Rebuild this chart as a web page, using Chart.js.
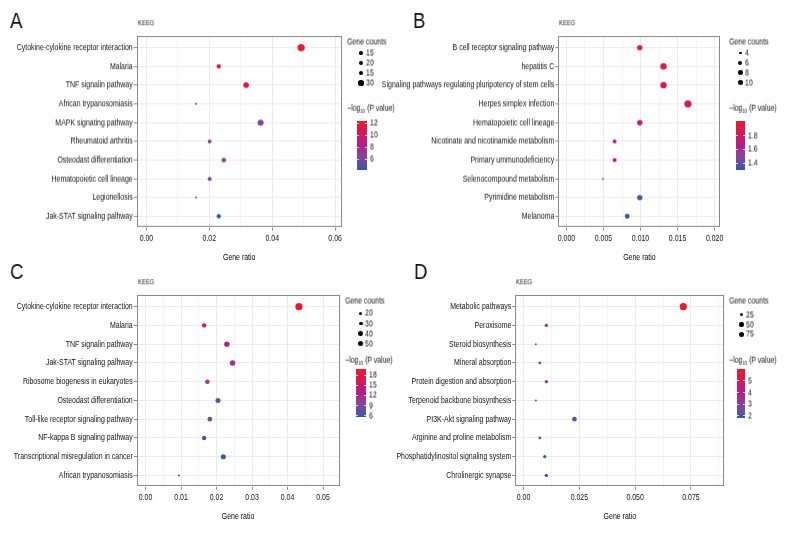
<!DOCTYPE html>
<html>
<head>
<meta charset="utf-8">
<script src="https://cdn.jsdelivr.net/npm/chart.js@4.4.1/dist/chart.umd.min.js"></script>
<style>
body { margin: 0; background: #fff; }
#fig { position: relative; width: 792px; height: 540px; overflow: hidden; font-family: 'Liberation Sans', Arial, sans-serif; color: #111; }
#fig canvas, #fig .t, #fig .dot, #fig .bar { position: absolute; }
.t { white-space: nowrap; line-height: 1; transform-origin: left center; -webkit-font-smoothing: antialiased; will-change: transform; }
.dot { border-radius: 50%; background: #000; }
</style>
</head>
<body>
<div id="fig"></div>
<script>
// ---- data ----
var termsA = ['Cytokine-cylokine receptor interaction', 'Malaria', 'TNF signalin pathway', 'African trypanosomiasis', 'MAPK signating pathway', 'Rheumatoid arthritis', 'Osteodast differentiation', 'Hematopoietic cell lineage', 'Legionellosis', 'Jak-STAT signaling palhway']
var ratioA = [0.0492, 0.0230, 0.0317, 0.0158, 0.0363, 0.0201, 0.0246, 0.0201, 0.0158, 0.0230]
var countA = [31, 14, 20, 10, 23, 13, 15, 13, 10, 14]
var logpA = [12.4, 11.6, 11.0, 9.2, 6.5, 6.3, 6.2, 6.1, 5.6, 4.2]
var xTicksA = [0, 0.02, 0.04, 0.06]
var xLabelsA = ['0.00', '0.02', '0.04', '0.06']
var sizeBreaksA = [15, 20, 25, 30]
var sizeLabelsA = ['15', '20', '15', '30']
var colorBreaksA = [6, 8, 10, 12]

var termsB = ['B cell receptor signaling pathway', 'hepatitis C', 'Signaling pathways regulating pluripotency of stem cells', 'Herpes simplex infection', 'Hematopoietic cell lineage', 'Nicotinate and nicotinamide metabolism', 'Primary ummunodeficiency', 'Selenocompound metabolism', 'Pyrimidine metabolism', 'Melanoma']
var ratioB = [0.0099, 0.0131, 0.0131, 0.0164, 0.0099, 0.0065, 0.0065, 0.0049, 0.0099, 0.0082]
var countB = [6, 8, 8, 10, 6, 4, 4, 3, 6, 5]
var logpB = [2.02, 1.92, 1.90, 1.88, 1.74, 1.68, 1.66, 1.45, 1.34, 1.30]
var xTicksB = [0, 0.005, 0.01, 0.015, 0.02]
var xLabelsB = ['0.000', '0.005', '0.010', '0.015', '0.020']
var sizeBreaksB = [4, 6, 8, 10]
var sizeLabelsB = ['4', '6', '8', '10']
var colorBreaksB = [1.4, 1.6, 1.8]

var termsC = ['Cytokine-cylokine receptor interaction', 'Malaria', 'TNF signalin pathway', 'Jak-STAT signaling palhway', 'Ribosome biogenesis in eukaryotes', 'Osteodast differentiation', 'Toll-like receptor signaling pathway', 'NF-kappa B signaling pathway', 'Transcriptional misregulation in cancer', 'African trypanosomiasis']
var ratioC = [0.0432, 0.0165, 0.0229, 0.0245, 0.0174, 0.0204, 0.0181, 0.0165, 0.0219, 0.0094]
var countC = [54, 21, 29, 31, 22, 26, 23, 21, 27, 12]
var logpC = [19.7, 15.2, 13.0, 11.5, 10.2, 8.6, 8.2, 6.9, 6.4, 5.7]
var xTicksC = [0, 0.01, 0.02, 0.03, 0.04, 0.05]
var xLabelsC = ['0.00', '0.01', '0.02', '0.03', '0.04', '0.05']
var sizeBreaksC = [20, 30, 40, 50]
var sizeLabelsC = ['20', '30', '40', '50']
var colorBreaksC = [6, 9, 12, 15, 18]

var termsD = ['Metabolic pathways', 'Peroxisome', 'Steroid biosynthesis', 'Mineral absorption', 'Protein digestion and absorption', 'Terpenoid backbone biosynthesis', 'PI3K-Akt signaling pathway', 'Arginine and proline metabolism', 'Phosphatidylinositol signaling system', 'Chrolinergic synapse']
var ratioD = [0.0716, 0.0102, 0.0055, 0.0073, 0.0102, 0.0055, 0.0228, 0.0073, 0.0095, 0.0102]
var countD = [80, 11, 6, 8, 11, 6, 25, 8, 10, 11]
var logpD = [6.0, 3.4, 3.2, 3.3, 3.4, 3.0, 2.6, 2.5, 2.0, 1.85]
var xTicksD = [0, 0.025, 0.05, 0.075]
var xLabelsD = ['0.00', '0.025', '0.050', '0.075']
var sizeBreaksD = [25, 50, 75]
var sizeLabelsD = ['25', '50', '75']
var colorBreaksD = [2, 3, 4, 5]

var FONT = "'Liberation Sans', Arial, sans-serif"
var TEXT_SIZE = 9
var fig = document.getElementById('fig')

// the original uses a condensed face; squeeze text horizontally so the longest label is ~116px wide
var measureCtx = document.createElement('canvas').getContext('2d')
measureCtx.font = `${TEXT_SIZE}px ${FONT}`
var SQUEEZE = 116 / measureCtx.measureText('Cytokine-cylokine receptor interaction').width

// ---- colour scale: low blue -> magenta -> red, interpolated in Lab ----
const toLin = c => c <= 0.04045 ? c / 12.92 : Math.pow((c + 0.055) / 1.055, 2.4)
const fromLin = c => c <= 0.0031308 ? 12.92 * c : 1.055 * Math.pow(c, 1 / 2.4) - 0.055
const fLab = t => t > 0.008856 ? Math.cbrt(t) : 7.787 * t + 16 / 116
const fInv = t => t > 0.206893 ? t * t * t : (t - 16 / 116) / 7.787

const hexToLab = hex => {
  const [r, g, b] = [1, 3, 5].map(i => toLin(parseInt(hex.substr(i, 2), 16) / 255))
  const X = (0.4124 * r + 0.3576 * g + 0.1805 * b) / 0.95047
  const Y = 0.2126 * r + 0.7152 * g + 0.0722 * b
  const Z = (0.0193 * r + 0.1192 * g + 0.9505 * b) / 1.08883
  return [116 * fLab(Y) - 16, 500 * (fLab(X) - fLab(Y)), 200 * (fLab(Y) - fLab(Z))]
}

const labToRgb = ([L, a, b]) => {
  const fy = (L + 16) / 116, fx = fy + a / 500, fz = fy - b / 200
  const X = fInv(fx) * 0.95047, Y = fInv(fy), Z = fInv(fz) * 1.08883
  const rgb = [3.2406 * X - 1.5372 * Y - 0.4986 * Z, -0.9689 * X + 1.8758 * Y + 0.0415 * Z, 0.0557 * X - 0.2040 * Y + 1.0570 * Z]
  return `rgb(${rgb.map(c => Math.round(255 * Math.min(1, Math.max(0, fromLin(Math.max(0, c)))))).join(',')})`
}

var labLow = hexToLab('#2F58A8')
var labMid = hexToLab('#B01E8C')
var labHigh = hexToLab('#EC1C26')

const gradient = t => {
  const mix = (p, q, s) => p.map((v, i) => v + (q[i] - v) * s)
  return t < 0.5 ? labToRgb(mix(labLow, labMid, t / 0.5)) : labToRgb(mix(labMid, labHigh, (t - 0.5) / 0.5))
}

// size scale (area) like ggplot scale_size
const radiusOf = (c, lo, hi) => 1.0 + 2.6 * Math.sqrt(Math.max(0, (c - lo) / (hi - lo)))

const boxPlugin = {
  id: 'panelBox',
  beforeDatasetsDraw(chart) {
    const {ctx, chartArea: a} = chart
    ctx.save()
    ctx.strokeStyle = '#8a8a8a'
    ctx.lineWidth = 1
    ctx.strokeRect(Math.round(a.left) + 0.5, Math.round(a.top) + 0.5, Math.round(a.right - a.left) - 1, Math.round(a.bottom - a.top) - 1)
    ctx.restore()
  }
}

// every text Chart.js writes goes through fillText: draw it condensed around its anchor
const squeezePlugin = {
  id: 'squeeze',
  beforeInit(chart) {
    const ctx = chart.ctx
    const orig = ctx.fillText.bind(ctx)
    ctx.fillText = (text, x, y) => {
      ctx.save()
      ctx.translate(x, y)
      ctx.scale(SQUEEZE, 1)
      orig(text, 0, 0)
      ctx.restore()
    }
  }
}

const addText = (x, y, html, size, sq) => {
  const el = document.createElement('div')
  el.className = 't'
  el.style.left = x + 'px'
  el.style.top = y + 'px'
  el.style.fontSize = size + 'px'
  el.style.transform = `translateY(-50%) scaleX(${sq || SQUEEZE})`
  el.innerHTML = html
  fig.appendChild(el)
  return el
}

const makePanel = (p) => {
  const lo = Math.min(...p.count), hi = Math.max(...p.count)
  const pMin = Math.min(...p.logp), pMax = Math.max(...p.logp)
  const colors = p.logp.map(v => gradient((v - pMin) / (pMax - pMin)))

  // minor grid positions halfway between majors
  var step = p.xTicks[1] - p.xTicks[0]
  var allTicks = []
  for (var v = p.xTicks[0]; v <= p.xMax + 1e-12; v += step / 2) allTicks.push(+v.toFixed(6))
  const isMajor = v => p.xTicks.some(t => Math.abs(t - v) < 1e-9)

  const top = p.PT - 2
  const bottom = Math.round(p.titleY + 5.4)
  const canvas = document.createElement('canvas')
  const w = Math.round(p.PR + 2 - p.left), h = bottom - top
  canvas.width = w
  canvas.height = h
  canvas.style.left = p.left + 'px'
  canvas.style.top = top + 'px'
  canvas.style.width = w + 'px'
  canvas.style.height = h + 'px'
  fig.appendChild(canvas)

  new Chart(canvas, {
    type: 'bubble',
    data: {
      datasets: [{
        data: p.ratio.map((x, i) => ({x: x, y: i, r: radiusOf(p.count[i], lo, hi)})),
        backgroundColor: colors,
        borderWidth: 0,
        hoverRadius: 0
      }]
    },
    options: {
      responsive: false,
      animation: false,
      devicePixelRatio: 1,
      layout: {padding: {left: 0, top: p.PT - top, right: p.left + w - p.PR, bottom: 0}},
      plugins: {legend: {display: false}, tooltip: {enabled: false}},
      scales: {
        x: {
          type: 'linear',
          min: p.xMin,
          max: p.xMax,
          afterBuildTicks: axis => { axis.ticks = allTicks.map(v => ({value: v})) },
          afterFit: axis => { axis.height = bottom - p.PB },
          border: {display: false},
          grid: {
            color: ctx => isMajor(ctx.tick.value) ? '#ebebeb' : '#f5f5f5',
            tickColor: ctx => isMajor(ctx.tick.value) ? '#888' : 'rgba(0,0,0,0)',
            tickLength: 3
          },
          ticks: {
            autoSkip: false,
            maxRotation: 0,
            padding: 2,
            color: '#111',
            font: {family: FONT, size: TEXT_SIZE},
            callback: v => {
              const i = p.xTicks.findIndex(t => Math.abs(t - v) < 1e-9)
              return i >= 0 ? p.xLabels[i] : ''
            }
          },
          title: {display: true, text: 'Gene ratio', color: '#000', padding: 0, font: {family: FONT, size: TEXT_SIZE}}
        },
        y: {
          type: 'linear',
          reverse: true,
          min: -0.6,
          max: 9.6,
          afterBuildTicks: axis => { axis.ticks = p.terms.map((t, i) => ({value: i})) },
          afterFit: axis => { axis.width = p.PL - p.left },
          border: {display: false},
          grid: {color: '#ebebeb', tickColor: '#888', tickLength: 3},
          ticks: {
            autoSkip: false,
            padding: 1,
            color: '#111',
            font: {family: FONT, size: TEXT_SIZE},
            callback: v => p.terms[v]
          }
        }
      }
    },
    plugins: [squeezePlugin, boxPlugin]
  })

  // panel letter + KEEG
  addText(p.letterX, p.letterY, p.letter, 22, 0.85)
  addText(p.PL + 1, p.PT - 9, 'KEEG', 7.5)

  // size legend
  const L = p.legend
  addText(L.x, L.titleY, 'Gene counts', 9)
  p.sizeBreaks.forEach((b, i) => {
    const r = 0.74 * radiusOf(b, lo, hi)
    const cy = L.sizeY0 + i * L.sizeStep
    const d = document.createElement('div')
    d.className = 'dot'
    d.style.left = (L.dotX - r) + 'px'
    d.style.top = (cy - r) + 'px'
    d.style.width = (2 * r) + 'px'
    d.style.height = (2 * r) + 'px'
    fig.appendChild(d)
    addText(L.dotX + 4.5, cy, p.sizeLabels[i], 9)
  })

  // colour bar legend
  addText(L.x, L.logY, '&minus;log<span style="font-size:5.5px;vertical-align:-2px">10</span> (P value)', 9)
  const bar = document.createElement('div')
  bar.className = 'bar'
  bar.style.left = L.barX + 'px'
  bar.style.top = L.barTop + 'px'
  bar.style.width = L.barW + 'px'
  bar.style.height = (L.barBottom - L.barTop) + 'px'
  var stops = []
  for (var k = 0; k <= 20; k++) stops.push(`${gradient(1 - k / 20)} ${k * 5}%`)
  bar.style.background = `linear-gradient(to bottom, ${stops.join(', ')})`
  fig.appendChild(bar)
  p.colorBreaks.forEach(b => {
    const y = L.barBottom - (b - pMin) / (pMax - pMin) * (L.barBottom - L.barTop)
    ;[0, L.barW - 2].forEach(dx => {
      const tk = document.createElement('div')
      tk.className = 'bar'
      tk.style.left = (L.barX + dx) + 'px'
      tk.style.top = (y - 0.5) + 'px'
      tk.style.width = '2px'
      tk.style.height = '1px'
      tk.style.background = 'rgba(255,255,255,0.8)'
      fig.appendChild(tk)
    })
    addText(L.barX + L.barW + 3, y, String(b), 9)
  })
}

makePanel({
  letter: 'A', letterX: 10, letterY: 21,
  terms: termsA, ratio: ratioA, count: countA, logp: logpA,
  xTicks: xTicksA, xLabels: xLabelsA, xMin: -0.0031, xMax: 0.0621,
  sizeBreaks: sizeBreaksA, sizeLabels: sizeLabelsA, colorBreaks: colorBreaksA,
  left: 0, PL: 136.7, PT: 32.3, PR: 344, PB: 227.7, titleY: 257.7,
  legend: {x: 347, titleY: 42, dotX: 361, sizeY0: 53, sizeStep: 10, logY: 109, barX: 357, barW: 10, barTop: 120.7, barBottom: 170}
})

makePanel({
  letter: 'B', letterX: 413, letterY: 21,
  terms: termsB, ratio: ratioB, count: countB, logp: logpB,
  xTicks: xTicksB, xLabels: xLabelsB, xMin: -0.0011, xMax: 0.0208,
  sizeBreaks: sizeBreaksB, sizeLabels: sizeLabelsB, colorBreaks: colorBreaksB,
  left: 380, PL: 558.3, PT: 32.3, PR: 726, PB: 227.7, titleY: 257.7,
  legend: {x: 728.7, titleY: 42, dotX: 740.3, sizeY0: 53, sizeStep: 9.9, logY: 109.3, barX: 736, barW: 9.3, barTop: 120.7, barBottom: 170}
})

makePanel({
  letter: 'C', letterX: 10, letterY: 271.5,
  terms: termsC, ratio: ratioC, count: countC, logp: logpC,
  xTicks: xTicksC, xLabels: xLabelsC, xMin: -0.0025, xMax: 0.0546,
  sizeBreaks: sizeBreaksC, sizeLabels: sizeLabelsC, colorBreaks: colorBreaksC,
  left: 0, PL: 136.7, PT: 291, PR: 340.7, PB: 486.7, titleY: 516.7,
  legend: {x: 345, titleY: 301, dotX: 360.7, sizeY0: 313.3, sizeStep: 10.2, logY: 360.7, barX: 356, barW: 9.7, barTop: 369.3, barBottom: 416.7}
})

makePanel({
  letter: 'D', letterX: 414, letterY: 271.5,
  terms: termsD, ratio: ratioD, count: countD, logp: logpD,
  xTicks: xTicksD, xLabels: xLabelsD, xMin: -0.0037, xMax: 0.09,
  sizeBreaks: sizeBreaksD, sizeLabels: sizeLabelsD, colorBreaks: colorBreaksD,
  left: 380, PL: 515.3, PT: 291, PR: 726, PB: 486.7, titleY: 516.7,
  legend: {x: 728.7, titleY: 301, dotX: 741.3, sizeY0: 314.7, sizeStep: 9.8, logY: 360.7, barX: 736.7, barW: 8.6, barTop: 369.3, barBottom: 417.7}
})
</script>
</body>
</html>
